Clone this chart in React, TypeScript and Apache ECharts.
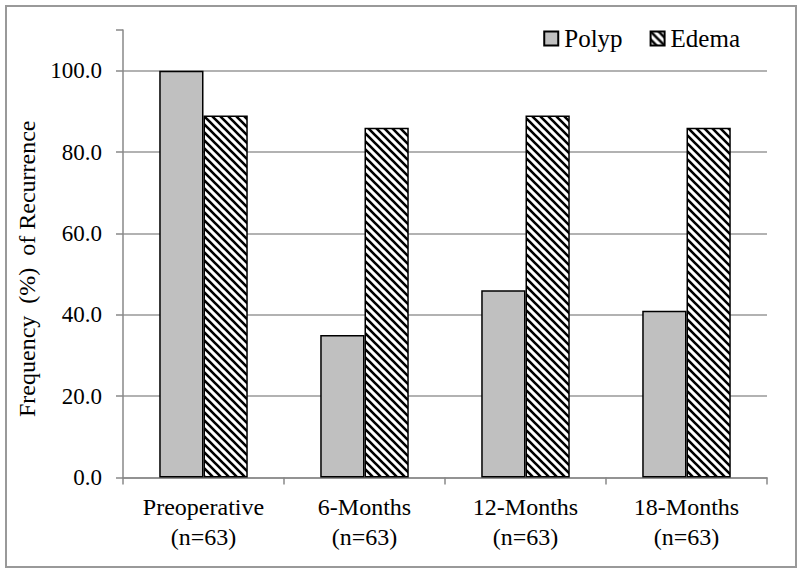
import React, { useEffect, useRef } from "react";
import * as echarts from "echarts";

const categories = ["Preoperative\n(n=63)", "6-Months\n(n=63)", "12-Months\n(n=63)", "18-Months\n(n=63)"];
const polypValues = [100, 35, 46, 41];
const edemaValues = [89, 86, 89, 86];
const seriesNames = ["Polyp", "Edema"];

function makeHatch(): HTMLCanvasElement {
  const c = document.createElement("canvas");
  c.width = 8;
  c.height = 8;
  const ctx = c.getContext("2d")!;
  ctx.fillStyle = "#ffffff";
  ctx.fillRect(0, 0, 8, 8);
  ctx.strokeStyle = "#000000";
  ctx.lineWidth = 2.6;
  ctx.beginPath();
  for (const k of [-8, 0, 8]) {
    ctx.moveTo(k - 2, -2);
    ctx.lineTo(k + 10, 10);
  }
  ctx.stroke();
  return c;
}

export default function App() {
  const ref = useRef<HTMLDivElement>(null);
  useEffect(() => {
    if (!ref.current) return;
    const chart = echarts.init(ref.current, undefined, { renderer: "svg" });
    const hatch = makeHatch();
    const font = "Liberation Serif, Times New Roman, serif";
    chart.setOption({
      animation: false,
      backgroundColor: "#ffffff",
      textStyle: { fontFamily: font, color: "#000" },
      graphic: [
        {
          type: "rect",
          shape: { x: 6, y: 6, width: 790, height: 561 },
          style: { fill: "none", stroke: "#999999", lineWidth: 2 },
          silent: true,
        },
      ],
      legend: {
        right: 55,
        top: 21,
        itemWidth: 14,
        itemHeight: 14,
        itemGap: 27,
        icon: "rect",
        textStyle: { fontFamily: font, fontSize: 25, color: "#000", padding: [0, 0, 0, 1] },
        data: seriesNames,
      },
      grid: { left: 123, right: 33, top: 30, bottom: 95.5 },
      xAxis: {
        type: "category",
        data: categories,
        axisLine: { lineStyle: { color: "#888", width: 1.5 } },
        axisTick: { show: true, length: 7, lineStyle: { color: "#888", width: 1.5 } },
        axisLabel: { fontFamily: font, fontSize: 24, color: "#000", lineHeight: 30, margin: 14 },
      },
      yAxis: {
        type: "value",
        min: 0,
        max: 110,
        interval: 20,
        name: "Frequency  (%)  of Recurrence",
        nameLocation: "middle",
        nameGap: 76,
        nameTextStyle: { fontFamily: font, fontSize: 24, color: "#000", padding: [0, 30, 0, 0] },
        axisLine: { show: true, lineStyle: { color: "#888", width: 1.5 } },
        axisTick: { show: true, length: 7, lineStyle: { color: "#888", width: 1.5 } },
        axisLabel: {
          fontFamily: font,
          fontSize: 23,
          color: "#000",
          margin: 21,
          formatter: (v: number) => (v > 100 ? "" : v.toFixed(1)),
        },
        splitLine: {
          show: true,
          lineStyle: { color: ["#999", "#999", "#999", "#999", "#999", "#999", "rgba(0,0,0,0)"], width: 1.5 },
        },
      },
      series: [
        {
          name: seriesNames[0],
          type: "bar",
          data: polypValues,
          barGap: "0%",
          barCategoryGap: "45%",
          itemStyle: { color: "#c0c0c0", borderColor: "#000", borderWidth: 1.5 },
        },
        {
          name: seriesNames[1],
          type: "bar",
          data: edemaValues,
          barGap: "0%",
          barCategoryGap: "45%",
          itemStyle: {
            color: { image: hatch, repeat: "repeat" },
            borderColor: "#000",
            borderWidth: 1.5,
          },
        },
      ],
    });
    return () => chart.dispose();
  }, []);
  return (
    <div
      ref={ref}
      style={{ position: "fixed", left: 0, top: 0, width: 800, height: 573, background: "#fff" }}
    />
  );
}
